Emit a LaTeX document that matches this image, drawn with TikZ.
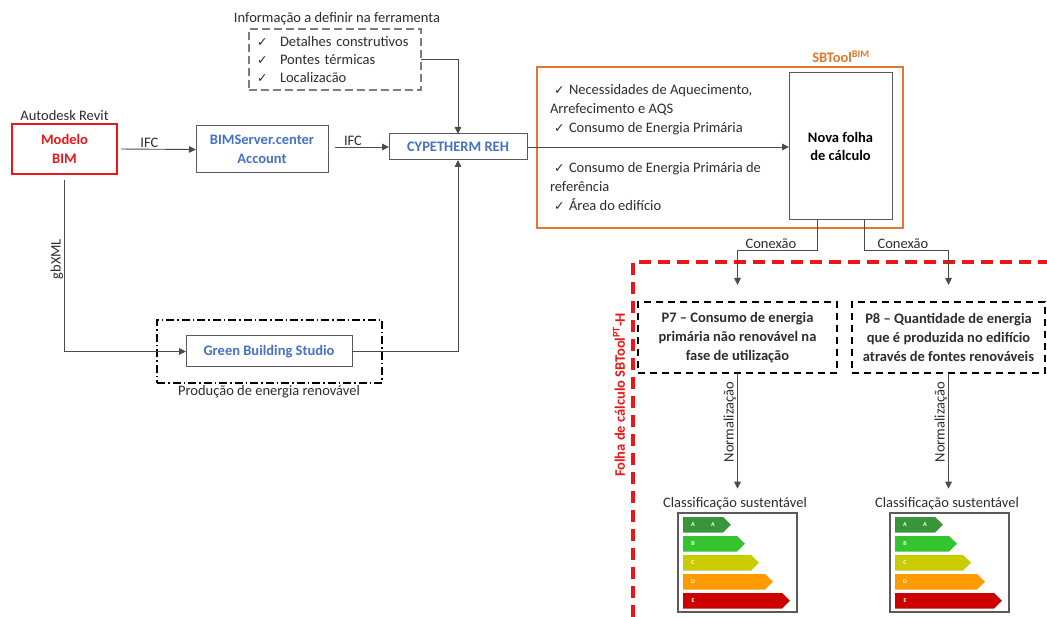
\documentclass[tikz,border=0pt]{standalone}
\usepackage{fontspec}
\setmainfont{Carlito}
\newfontfamily\chkfont{DejaVu Sans}
\usetikzlibrary{arrows.meta,calc}
\definecolor{bimblue}{RGB}{68,114,196}
\definecolor{bimred}{RGB}{235,22,22}
\definecolor{sborange}{RGB}{224,120,46}
\definecolor{linegray}{RGB}{75,75,75}
\definecolor{boxgray}{RGB}{90,90,90}
\definecolor{txtgray}{RGB}{45,45,45}
\definecolor{infogray}{RGB}{125,125,125}
\definecolor{enA}{RGB}{55,150,58}
\definecolor{enB}{RGB}{52,196,48}
\definecolor{enC}{RGB}{200,204,0}
\definecolor{enD}{RGB}{255,154,0}
\definecolor{enE}{RGB}{205,0,0}
\newcommand\chk{{\chkfont\fontsize{12.5}{12}\selectfont ✓}}
\newcommand\energylabel[2]{%
  \begin{scope}[shift={(#1,513)}]
    \node[draw=boxgray, line width=1.2pt, minimum width=119pt, minimum height=99pt, anchor=north west] (#2box) at (0,0) {};
    \foreach \t/\tip/\c/\L in {4/53/enA/A,23/67/enB/B,42/81/enC/C,61/95/enD/D,80/112/enE/E}{
      \fill[\c] (5,\t) -- (\tip-8,\t) -- (\tip,\t+7.75) -- (\tip-8,\t+15.5) -- (5,\t+15.5) -- cycle;
      \node[enletter] (#2\L) at (15,\t+7.75) {\L};
    }
    \node[enletter] (#2AA) at (35,11.75) {A};
  \end{scope}}
\begin{document}
\begin{tikzpicture}[x=1pt,y=-1pt,
  every node/.style={inner sep=0pt, outer sep=0pt},
  font=\fontsize{14.5}{19}\selectfont,
  toolbox/.style={draw=boxgray, line width=1pt, text=bimblue, font=\fontsize{14.5}{19}\selectfont\bfseries, align=center},
  redbox/.style={draw=bimred, line width=2.2pt, text=bimred, font=\fontsize{14.5}{19}\selectfont\bfseries, align=center},
  arr/.style={draw=linegray, line width=0.9pt, -{Triangle[length=7pt,width=6.5pt]}},
  lbl/.style={text=txtgray, inner sep=1.5pt},
  pbox/.style={draw=black, line width=1.8pt, dash pattern=on 7pt off 5pt, text=txtgray, font=\fontsize{14.5}{19}\selectfont\bfseries, align=center},
  enletter/.style={text=white, font=\fontsize{6}{6}\selectfont\bfseries},
  ctitle/.style={text=txtgray, inner sep=2pt}
]
\path[fill=white, use as bounding box] (0,0) rectangle (1047,617);

% ---- left part
\node[lbl] (revit) at (64.5,116) {Autodesk Revit};
\node[redbox, minimum width=105pt, minimum height=50pt] (mbim) at (64.5,149) {Modelo\\BIM};
\node[toolbox, minimum width=132pt, minimum height=47pt] (bims) at (262,149.5) {BIMServer.center\\Account};
\node[toolbox, minimum width=138pt, minimum height=26pt] (cype) at (458,147) {CYPETHERM REH};

\node[lbl] (infotitle) at (337,19) {Informação a definir na ferramenta};
\node[draw=infogray, line width=2.4pt, dash pattern=on 8pt off 4pt, minimum width=172pt, minimum height=61pt,
      text width=156pt, align=left, text=txtgray, font=\fontsize{14.5}{18}\selectfont] (info) at (335,59.5)
  {\makebox[23pt][l]{\chk}Detalhes construtivos\\\makebox[23pt][l]{\chk}Pontes térmicas\\\makebox[23pt][l]{\chk}Localizacão};

\node[draw=black, line width=1.5pt, dash pattern=on 8pt off 3pt on 1.5pt off 3pt, minimum width=225pt, minimum height=63pt] (gbsframe) at (269.5,351.5) {};
\node[toolbox, minimum width=166pt, minimum height=31pt] (gbs) at (269,351.5) {Green Building Studio};
\node[lbl] (prod) at (269,392) {Produção de energia renovável};

\draw[arr, shorten <=4pt] (mbim.east) -- node[pos=0.41, above, lbl] {IFC} (bims.west);
\draw[arr, shorten <=7pt] (bims.east |- cype.west) -- node[pos=0.41, above, lbl] {IFC} (cype.west);
\draw[arr] (info.east) -| (cype.north);
\draw[arr, shorten <=6pt] (mbim.south) |- node[pos=0.24, rotate=90, anchor=south, lbl] {gbXML} (gbs.west);
\draw[arr] (gbs.east) -| (cype.south);

% ---- SBTool BIM part
\node[draw=sborange, line width=2.2pt, minimum width=366pt, minimum height=161pt] (sbframe) at (720,147.5) {};
\node[text=sborange, font=\fontsize{14.5}{19}\selectfont\bfseries] (sbtitle) at (841,57) {SBTool\textsuperscript{BIM}};
\node[draw=boxgray, line width=1pt, minimum width=103pt, minimum height=147pt, align=center,
      font=\fontsize{14.5}{18}\selectfont\bfseries, text=black] (nova) at (840.5,146.5) {Nova folha\\de cálculo};
\node[anchor=west, align=left, text=txtgray] (items1) at (550,110)
  {\hspace*{4pt}\makebox[15pt][l]{\chk}Necessidades de Aquecimento,\\Arrefecimento e AQS\\\hspace*{4pt}\makebox[15pt][l]{\chk}Consumo de Energia Primária};
\node[anchor=west, align=left, text=txtgray] (items2) at (550,187)
  {\hspace*{4pt}\makebox[15pt][l]{\chk}Consumo de Energia Primária de\\referência\\\hspace*{4pt}\makebox[15pt][l]{\chk}Área do edifício};
\draw[arr] (cype.east) -- (cype.east -| nova.west);

% ---- SBTool PT-H part
\draw[draw=bimred, line width=3.6pt, dash pattern=on 12pt off 7pt] (633,617) -- (633,262) -- (1047,262);
\node[rotate=90, text=bimred, font=\fontsize{14.5}{19}\selectfont\bfseries] (folha) at (619,395) {Folha de cálculo SBTool\textsuperscript{PT}-H};

\node[pbox, minimum width=199pt, minimum height=71pt] (p7) at (737.5,337.5)
  {P7 – Consumo de energia\\primária não renovável na\\fase de utilização};
\node[pbox, minimum width=193pt, minimum height=71pt] (p8) at (948.5,337.5)
  {P8 – Quantidade de energia\\que é produzida no edifício\\através de fontes renováveis};

\coordinate (n1) at ($(nova.south)+(-23.5,0)$);
\coordinate (n2) at ($(nova.south)+(23.5,0)$);
\draw[arr, shorten >=17pt] (n1) -- ++(0,30) -| node[pos=0.29, above, lbl] {Conexão} (p7.north);
\draw[arr, shorten >=17pt] (n2) -- ++(0,30) -| node[pos=0.23, above, lbl] {Conexão} (p8.north);

\node[ctitle] (cs1) at (735,504) {Classificação sustentável};
\node[ctitle] (cs2) at (947,504) {Classificação sustentável};
\draw[arr, shorten >=7pt] (p7.south) -- node[pos=0.4, rotate=90, anchor=south, lbl] {Normalização} (p7.south |- cs1.north);
\draw[arr, shorten >=7pt] (p8.south) -- node[pos=0.4, rotate=90, anchor=south, lbl] {Normalização} (p8.south |- cs2.north);

\energylabel{678}{el1}
\energylabel{890}{el2}
\end{tikzpicture}
\end{document}
